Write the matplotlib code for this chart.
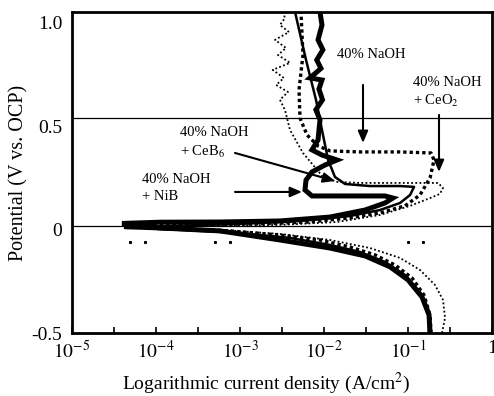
import matplotlib
matplotlib.use('Agg')
import matplotlib.pyplot as plt
from matplotlib.ticker import FixedLocator, FixedFormatter, NullFormatter

plt.rcParams['font.family'] = ['Liberation Serif', 'DejaVu Serif']
plt.rcParams['mathtext.fontset'] = 'stix'

# ---- data (current density A/cm2, potential V vs OCP) ----
naoh_i = [0.188, 0.183, 0.155, 0.112, 0.070, 0.0405, 0.0204, 8.96e-3, 2.99e-3, 7.6e-4, 1.47e-4, 6.45e-5,
          2.54e-4, 1.73e-3, 6.82e-3, 0.0204, 0.0464, 0.092, 0.139, 0.183, 0.204, 0.188,
          0.0804, 0.0268, 0.0118, 8.49e-3, 6.28e-3, 5.18e-3, 5.04e-3, 5.62e-3, 5.32e-3]
naoh_e = [-0.5, -0.413, -0.316, -0.234, -0.171, -0.122, -0.084, -0.050, -0.026, -0.006, 0.008, 0.018,
          0.023, 0.028, 0.037, 0.057, 0.081, 0.115, 0.168, 0.250, 0.337, 0.371,
          0.376, 0.376, 0.381, 0.405, 0.458, 0.540, 0.676, 0.845, 1.053]

ceb6_i = [0.178, 0.175, 0.139, 0.092, 0.0532, 0.0268, 0.0118, 3.94e-3, 1e-3, 1.93e-4, 4.27e-5,
          1.47e-4, 1e-3, 5.18e-3, 0.0204, 0.0464, 0.0804, 0.106, 0.118, 0.0804, 0.0353, 0.0178,
          0.0135, 0.0112, 9.46e-3, 8.03e-3, 6.11e-3, 4.52e-3]
ceb6_e = [-0.5, -0.389, -0.302, -0.219, -0.156, -0.108, -0.074, -0.040, -0.016, -0.001, 0.008,
          0.018, 0.028, 0.042, 0.066, 0.095, 0.129, 0.168, 0.207, 0.211, 0.211, 0.221,
          0.255, 0.337, 0.482, 0.628, 0.821, 1.053]

nib_i = [0.183, 0.178, 0.147, 0.1, 0.0611, 0.0308, 0.0118, 2.99e-3, 5.78e-4, 1.12e-4, 3.94e-5,
         1.12e-4, 5.78e-4, 2.99e-3, 0.0118, 0.0308, 0.0532, 0.0662, 0.0532, 0.0155, 7.19e-3,
         5.94e-3, 6.11e-3, 7.19e-3, 0.0103, 0.0143, 9.46e-3, 7.19e-3, 8.49e-3, 8.96e-3,
         8.0e-3, 9.6e-3, 8.7e-3, 9.46e-3, 6.8e-3, 9.2e-3, 8.2e-3, 9.7e-3, 8.49e-3, 9.46e-3, 8.96e-3]
nib_e = [-0.5, -0.413, -0.326, -0.243, -0.180, -0.127, -0.089, -0.050, -0.006, 0.008, 0.030,
         0.036, 0.037, 0.042, 0.061, 0.095, 0.129, 0.153, 0.163, 0.163, 0.163,
         0.192, 0.240, 0.279, 0.313, 0.337, 0.361, 0.386, 0.434, 0.531,
         0.580, 0.628, 0.680, 0.724, 0.734, 0.780, 0.821, 0.870, 0.918, 0.990, 1.053]

ceo2_i = [0.254, 0.276, 0.261, 0.210, 0.139, 0.0804, 0.0353, 0.0118, 2.99e-3, 5.78e-4, 8.48e-5,
          3.34e-4, 2.99e-3, 0.0143, 0.0464, 0.106, 0.183, 0.240, 0.261, 0.228, 0.0804, 0.0268,
          0.0143, 9.73e-3, 5.62e-3, 3.94e-3, 3.43e-3,
          2.99e-3, 3.72e-3, 2.69e-3, 3.33e-3, 2.45e-3, 3.94e-3, 2.83e-3, 3.53e-3, 2.61e-3,
          3.83e-3, 2.99e-3, 3.43e-3, 3.25e-3]
ceo2_e = [-0.5, -0.427, -0.340, -0.268, -0.195, -0.137, -0.089, -0.050, -0.021, -0.001, 0.013,
          0.018, 0.023, 0.037, 0.071, 0.115, 0.153, 0.173, 0.202, 0.226, 0.226, 0.226,
          0.231, 0.255, 0.371, 0.482, 0.579,
          0.628, 0.666, 0.700, 0.734, 0.773, 0.807, 0.845, 0.879, 0.918,
          0.956, 0.990, 1.024, 1.053]

stray_i = [4.9e-5, 7.4e-5, 5.03e-4, 7.6e-4, 0.1, 0.151]
stray_e = [-0.06, -0.06, -0.06, -0.06, -0.06, -0.06]

hline_e = [0.54, 0.018]

xtick_vals = [1e-5, 1e-4, 1e-3, 1e-2, 1e-1, 1]
xtick_labels = [r'$10^{-5}$', r'$10^{-4}$', r'$10^{-3}$', r'$10^{-2}$', r'$10^{-1}$', '1']
ytick_vals = [-0.5, 0, 0.5, 1.0]
ytick_labels = ['-0.5', '0', '0.5', '1.0']


def px(x, y):
    # pixel position of the reference -> data coordinates (for label placement only)
    return 10 ** ((x - 72) / 84 - 5), (229.7 - y) / 206.7


# ---- figure ----
fig = plt.figure(figsize=(4.94, 3.96), dpi=100)
ax = fig.add_axes([72/494, 1-333/396, 420/494, 321/396])
ax.set_xscale('log')
ax.set_xlim(1e-5, 1)
ax.set_ylim(-0.5, 1.053)

for e in hline_e:
    ax.axhline(e, color='black', lw=0.9)

ax.plot(ceo2_i, ceo2_e, color='black', lw=1.3, linestyle=(0, (1, 1.3)))
ax.plot(naoh_i, naoh_e, color='black', lw=2.4, linestyle=(0, (1, 0.9)))
ax.plot(ceb6_i, ceb6_e, color='black', lw=1.8)
ax.plot(nib_i, nib_e, color='black', lw=3.6, solid_joinstyle='miter')
ax.plot(stray_i, stray_e, linestyle='none', marker='s', ms=1.2, color='black')

# annotations
tk = dict(fontsize=10.5, color='black', ha='left', va='center')
ax.text(*px(337, 55), '40% NaOH', **tk)
ax.text(*px(413, 83), '40% NaOH', **tk)
ax.text(*px(413, 101), r'+ CeO$_2$', **tk)
ax.text(*px(180, 133), '40% NaOH', **tk)
ax.text(*px(180, 152), r'+ CeB$_6$', **tk)
ax.text(*px(142, 180), '40% NaOH', **tk)
ax.text(*px(142, 197), '+ NiB', **tk)

ap = dict(arrowstyle='-|>,head_length=0.7,head_width=0.3', color='black', lw=1.5, shrinkA=0, shrinkB=0)
ax.annotate('', xy=px(363, 143), xytext=px(363, 85), arrowprops=ap)
ax.annotate('', xy=px(439, 172), xytext=px(439, 115), arrowprops=ap)
ax.annotate('', xy=px(335, 181), xytext=px(235, 153), arrowprops=ap)
ax.annotate('', xy=px(302, 192), xytext=px(235, 192), arrowprops=ap)

# axes styling
for s in ax.spines.values():
    s.set_linewidth(2.0)
ax.xaxis.set_major_locator(FixedLocator(xtick_vals))
ax.xaxis.set_major_formatter(FixedFormatter(xtick_labels))
ax.xaxis.set_minor_locator(FixedLocator([10 ** (k + 0.5) for k in range(-5, 0)]))
ax.xaxis.set_minor_formatter(NullFormatter())
ax.tick_params(axis='x', which='both', direction='in', length=4, width=1.2, labelsize=14, pad=5)
ax.yaxis.set_major_locator(FixedLocator(ytick_vals))
ax.yaxis.set_major_formatter(FixedFormatter(ytick_labels))
ax.yaxis.set_minor_locator(FixedLocator([]))
ax.tick_params(axis='y', which='both', length=0, labelsize=14, pad=7)

ax.set_xlabel(r'Logarithmic current density (A/cm$^2$)', fontsize=14)
ax.xaxis.label.set_va('center')
ax.xaxis.set_label_coords((266 - 72) / 420, (333 - 383) / 321)
ax.set_ylabel('Potential (V vs. OCP)', fontsize=14.5)
ax.yaxis.label.set_va('center')
ax.yaxis.set_label_coords((19 - 72) / 420, 0.5)

fig.savefig('out.png', dpi=100)
